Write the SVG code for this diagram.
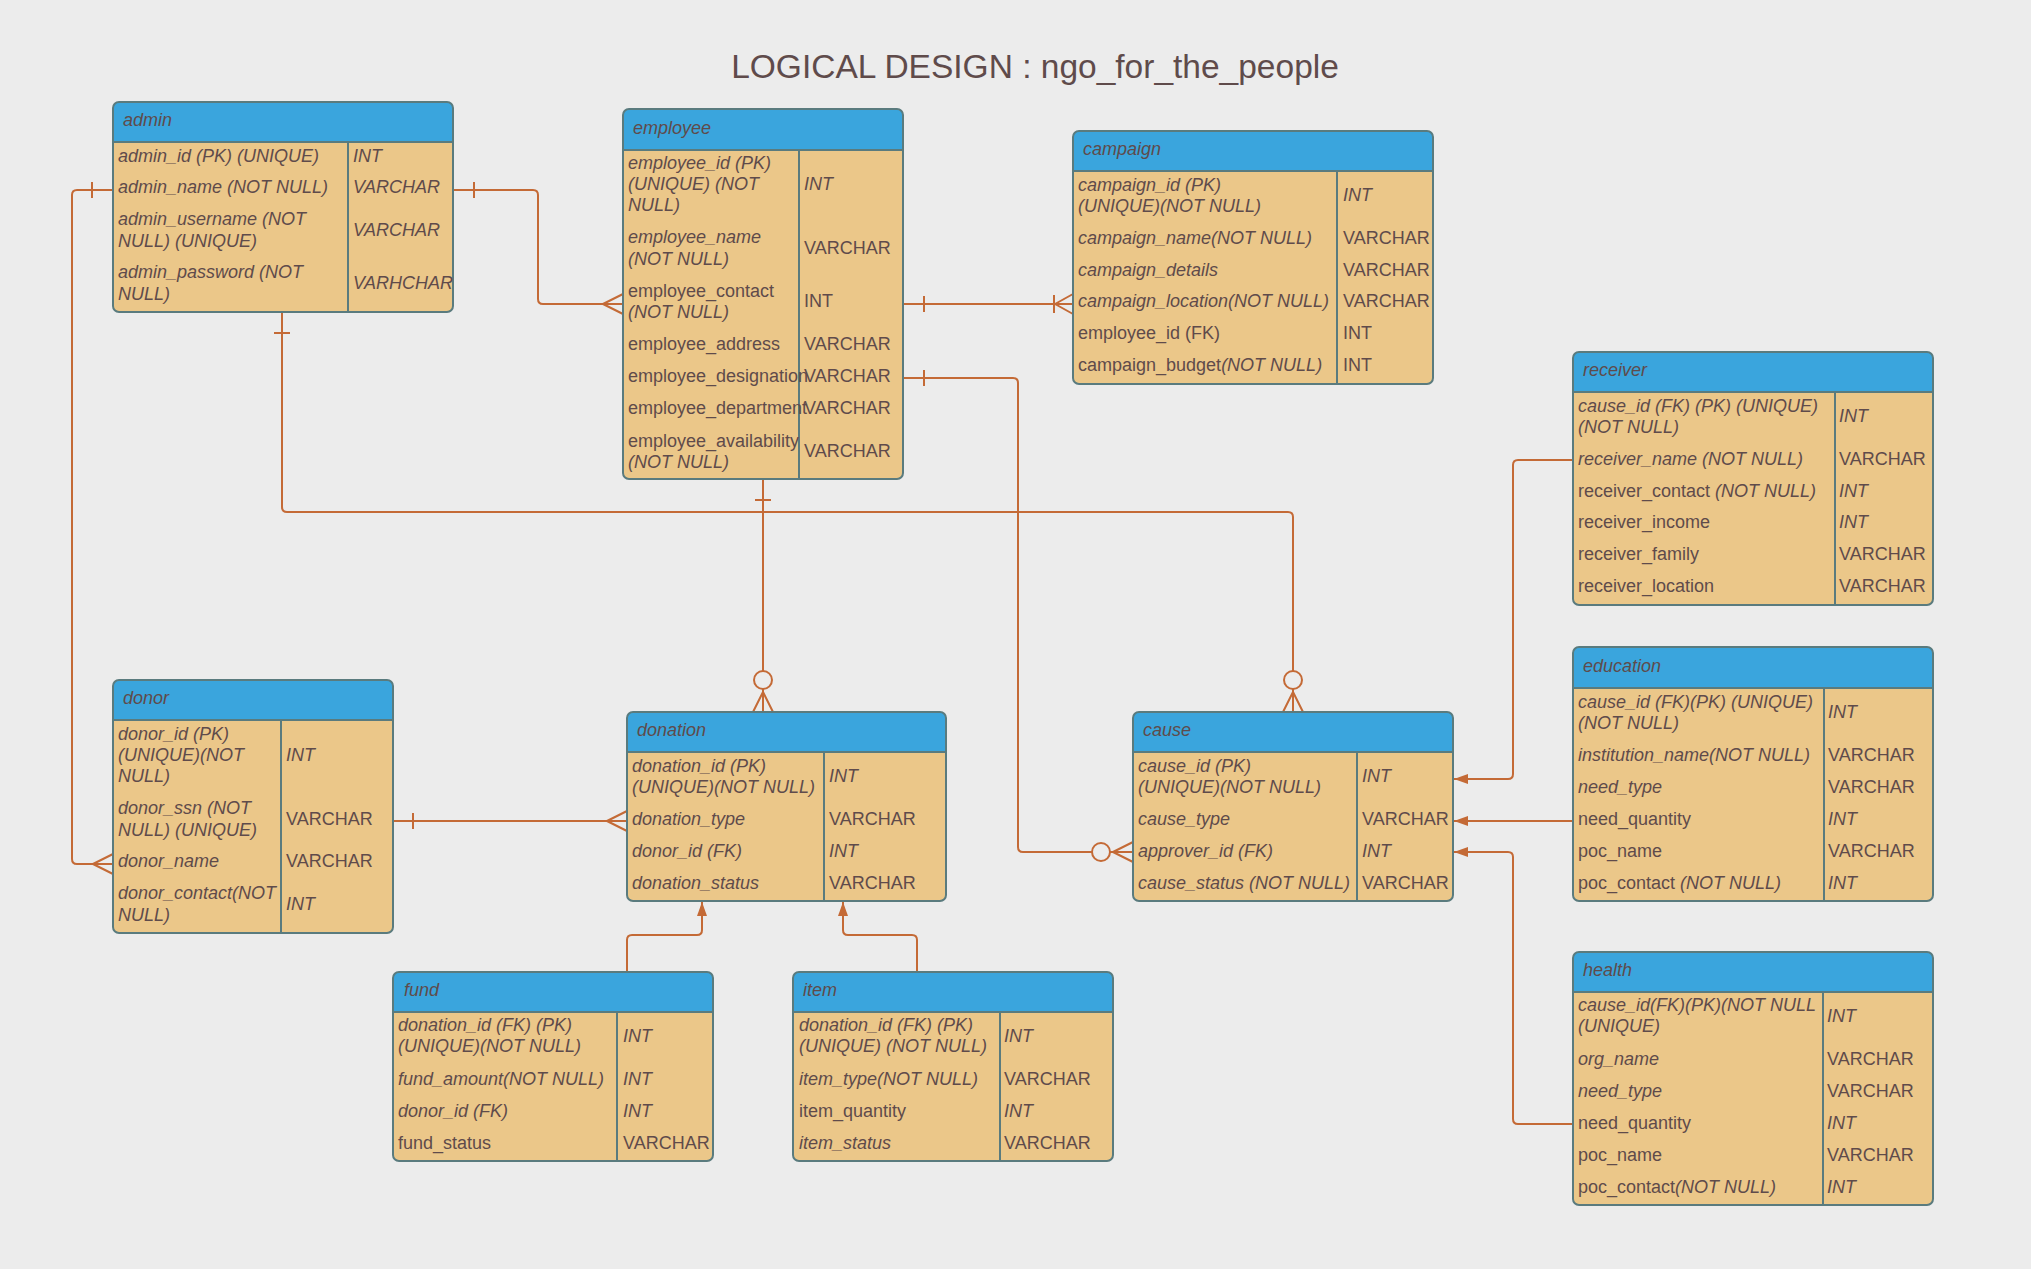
<svg xmlns="http://www.w3.org/2000/svg" width="2031" height="1269" viewBox="0 0 2031 1269">
<style>
  text { font-family: "Liberation Sans", Arial, sans-serif; font-size: 18px; fill: #5f4b4b; }
  .i { font-style: italic; }
  .title { font-size: 33.5px; }
  .body { fill: #ebc789; }
  .head { fill: #3aa5dd; }
  .frame { fill: none; stroke: #5a7b7e; stroke-width: 2; }
  .rel { fill: none; stroke: #c46a36; stroke-width: 2; }
  .ring { fill: #ececec; stroke: #c46a36; stroke-width: 2; }
</style>
<defs>
  <marker id="arrow" viewBox="0 0 14 10" refX="14" refY="5" markerWidth="14" markerHeight="10" markerUnits="userSpaceOnUse" orient="auto">
    <path d="M0,0 L14,5 L0,10 Z" fill="#c46a36"/>
  </marker>
</defs>
<rect width="2031" height="1269" fill="#ececec"/>
<text class="title" x="1035" y="78" text-anchor="middle">LOGICAL DESIGN : ngo_for_the_people</text>

<!-- relationships -->
<g id="connectors">
  <!-- admin -> donor -->
  <path class="rel" d="M113,190 H77 Q72,190 72,195 V859 Q72,864 77,864 H113"/>
  <path class="rel" d="M92,182 V198 M93,864 L113,854 M93,864 L113,874"/>
  <!-- admin -> employee -->
  <path class="rel" d="M453,190 H533 Q538,190 538,195 V299 Q538,304 543,304 H623"/>
  <path class="rel" d="M474,182 V198 M603,304 L623,294 M603,304 L623,314"/>
  <!-- employee -> campaign -->
  <path class="rel" d="M903,304 H1073"/>
  <path class="rel" d="M924,296 V312 M1054,295 V313 M1055,304 L1073,294 M1055,304 L1073,314"/>
  <!-- employee -> cause (approver) -->
  <path class="rel" d="M903,378 H1013 Q1018,378 1018,383 V847 Q1018,852 1023,852 H1133"/>
  <path class="rel" d="M924,370 V386 M1113,852 L1133,842 M1113,852 L1133,862"/>
  <circle class="ring" cx="1101" cy="852" r="9"/>
  <!-- employee -> donation -->
  <path class="rel" d="M763,479 V712"/>
  <path class="rel" d="M755,500 H771 M763,692 L753,712 M763,692 L773,712"/>
  <circle class="ring" cx="763" cy="680" r="9"/>
  <!-- admin -> cause -->
  <path class="rel" d="M282,312 V507 Q282,512 287,512 H1288 Q1293,512 1293,517 V712"/>
  <path class="rel" d="M274,333 H290 M1293,692 L1283,712 M1293,692 L1303,712"/>
  <circle class="ring" cx="1293" cy="680" r="9"/>
  <!-- donor -> donation -->
  <path class="rel" d="M393,821 H627"/>
  <path class="rel" d="M413,813 V829 M607,821 L627,811 M607,821 L627,831"/>
  <!-- fund, item -> donation -->
  <path class="rel" d="M627,972 V940 Q627,935 632,935 H697 Q702,935 702,930 V902" marker-end="url(#arrow)"/>
  <path class="rel" d="M917,972 V940 Q917,935 912,935 H848 Q843,935 843,930 V902" marker-end="url(#arrow)"/>
  <!-- receiver, education, health -> cause -->
  <path class="rel" d="M1573,460 H1518 Q1513,460 1513,465 V774 Q1513,779 1508,779 H1454" marker-end="url(#arrow)"/>
  <path class="rel" d="M1573,821 H1454" marker-end="url(#arrow)"/>
  <path class="rel" d="M1573,1124 H1518 Q1513,1124 1513,1119 V857 Q1513,852 1508,852 H1454" marker-end="url(#arrow)"/>
</g>

<g id="admin">
  <rect class="body" x="113" y="102" width="340" height="210" rx="6"/>
  <path class="head" d="M113,142 V108 Q113,102 119,102 H447 Q453,102 453,108 V142 Z"/>
  <rect class="frame" x="113" y="102" width="340" height="210" rx="6"/>
  <path class="frame" d="M113,142 H453 M348,142 V312"/>
  <text class="i" x="123" y="126">admin</text>
  <text class="i" x="118" y="162">admin_id (PK) (UNIQUE)</text>
  <text class="i" x="353" y="162">INT</text>
  <text class="i" x="118" y="193">admin_name (NOT NULL)</text>
  <text class="i" x="353" y="193">VARCHAR</text>
  <text class="i" x="118" y="225">admin_username (NOT</text>
  <text class="i" x="118" y="247">NULL) (UNIQUE)</text>
  <text class="i" x="353" y="236">VARCHAR</text>
  <text class="i" x="118" y="278">admin_password (NOT</text>
  <text class="i" x="118" y="300">NULL)</text>
  <text class="i" x="353" y="289">VARHCHAR</text>
</g>

<g id="employee">
  <rect class="body" x="623" y="109" width="280" height="370" rx="6"/>
  <path class="head" d="M623,150 V115 Q623,109 629,109 H897 Q903,109 903,115 V150 Z"/>
  <rect class="frame" x="623" y="109" width="280" height="370" rx="6"/>
  <path class="frame" d="M623,150 H903 M799,150 V479"/>
  <text class="i" x="633" y="134">employee</text>
  <text class="i" x="628" y="169">employee_id (PK)</text>
  <text class="i" x="628" y="190">(UNIQUE) (NOT</text>
  <text class="i" x="628" y="211">NULL)</text>
  <text class="i" x="804" y="190">INT</text>
  <text class="i" x="628" y="243">employee_name</text>
  <text class="i" x="628" y="265">(NOT NULL)</text>
  <text x="804" y="254">VARCHAR</text>
  <text x="628" y="297">employee_contact</text>
  <text class="i" x="628" y="318">(NOT NULL)</text>
  <text x="804" y="307">INT</text>
  <text x="628" y="350">employee_address</text>
  <text x="804" y="350">VARCHAR</text>
  <text x="628" y="382">employee_designation</text>
  <text x="804" y="382">VARCHAR</text>
  <text x="628" y="414">employee_department</text>
  <text x="804" y="414">VARCHAR</text>
  <text x="628" y="447">employee_availability</text>
  <text class="i" x="628" y="468">(NOT NULL)</text>
  <text x="804" y="457">VARCHAR</text>
</g>

<g id="campaign">
  <rect class="body" x="1073" y="131" width="360" height="253" rx="6"/>
  <path class="head" d="M1073,171 V137 Q1073,131 1079,131 H1427 Q1433,131 1433,137 V171 Z"/>
  <rect class="frame" x="1073" y="131" width="360" height="253" rx="6"/>
  <path class="frame" d="M1073,171 H1433 M1337,171 V384"/>
  <text class="i" x="1083" y="155">campaign</text>
  <text class="i" x="1078" y="191">campaign_id (PK)</text>
  <text class="i" x="1078" y="212">(UNIQUE)(NOT NULL)</text>
  <text class="i" x="1343" y="201">INT</text>
  <text class="i" x="1078" y="244">campaign_name(NOT NULL)</text>
  <text x="1343" y="244">VARCHAR</text>
  <text class="i" x="1078" y="276">campaign_details</text>
  <text x="1343" y="276">VARCHAR</text>
  <text class="i" x="1078" y="307">campaign_location(NOT NULL)</text>
  <text x="1343" y="307">VARCHAR</text>
  <text x="1078" y="339">employee_id (FK)</text>
  <text x="1343" y="339">INT</text>
  <text x="1078" y="371">campaign_budget<tspan class="i">(NOT NULL)</tspan></text>
  <text x="1343" y="371">INT</text>
</g>

<g id="receiver">
  <rect class="body" x="1573" y="352" width="360" height="253" rx="6"/>
  <path class="head" d="M1573,392 V358 Q1573,352 1579,352 H1927 Q1933,352 1933,358 V392 Z"/>
  <rect class="frame" x="1573" y="352" width="360" height="253" rx="6"/>
  <path class="frame" d="M1573,392 H1933 M1835,392 V605"/>
  <text class="i" x="1583" y="376">receiver</text>
  <text class="i" x="1578" y="412">cause_id (FK) (PK) (UNIQUE)</text>
  <text class="i" x="1578" y="433">(NOT NULL)</text>
  <text class="i" x="1839" y="422">INT</text>
  <text class="i" x="1578" y="465">receiver_name (NOT NULL)</text>
  <text x="1839" y="465">VARCHAR</text>
  <text x="1578" y="497">receiver_contact <tspan class="i">(NOT NULL)</tspan></text>
  <text class="i" x="1839" y="497">INT</text>
  <text x="1578" y="528">receiver_income</text>
  <text class="i" x="1839" y="528">INT</text>
  <text x="1578" y="560">receiver_family</text>
  <text x="1839" y="560">VARCHAR</text>
  <text x="1578" y="592">receiver_location</text>
  <text x="1839" y="592">VARCHAR</text>
</g>

<g id="donor">
  <rect class="body" x="113" y="680" width="280" height="253" rx="6"/>
  <path class="head" d="M113,720 V686 Q113,680 119,680 H387 Q393,680 393,686 V720 Z"/>
  <rect class="frame" x="113" y="680" width="280" height="253" rx="6"/>
  <path class="frame" d="M113,720 H393 M281,720 V933"/>
  <text class="i" x="123" y="704">donor</text>
  <text class="i" x="118" y="740">donor_id (PK)</text>
  <text class="i" x="118" y="761">(UNIQUE)(NOT</text>
  <text class="i" x="118" y="782">NULL)</text>
  <text class="i" x="286" y="761">INT</text>
  <text class="i" x="118" y="814">donor_ssn (NOT</text>
  <text class="i" x="118" y="836">NULL) (UNIQUE)</text>
  <text x="286" y="825">VARCHAR</text>
  <text class="i" x="118" y="867">donor_name</text>
  <text x="286" y="867">VARCHAR</text>
  <text class="i" x="118" y="899">donor_contact(NOT</text>
  <text class="i" x="118" y="921">NULL)</text>
  <text class="i" x="286" y="910">INT</text>
</g>

<g id="donation">
  <rect class="body" x="627" y="712" width="319" height="189" rx="6"/>
  <path class="head" d="M627,752 V718 Q627,712 633,712 H940 Q946,712 946,718 V752 Z"/>
  <rect class="frame" x="627" y="712" width="319" height="189" rx="6"/>
  <path class="frame" d="M627,752 H946 M824,752 V901"/>
  <text class="i" x="637" y="736">donation</text>
  <text class="i" x="632" y="772">donation_id (PK)</text>
  <text class="i" x="632" y="793">(UNIQUE)(NOT NULL)</text>
  <text class="i" x="829" y="782">INT</text>
  <text class="i" x="632" y="825">donation_type</text>
  <text x="829" y="825">VARCHAR</text>
  <text class="i" x="632" y="857">donor_id (FK)</text>
  <text class="i" x="829" y="857">INT</text>
  <text class="i" x="632" y="889">donation_status</text>
  <text x="829" y="889">VARCHAR</text>
</g>

<g id="cause">
  <rect class="body" x="1133" y="712" width="320" height="189" rx="6"/>
  <path class="head" d="M1133,752 V718 Q1133,712 1139,712 H1447 Q1453,712 1453,718 V752 Z"/>
  <rect class="frame" x="1133" y="712" width="320" height="189" rx="6"/>
  <path class="frame" d="M1133,752 H1453 M1357,752 V901"/>
  <text class="i" x="1143" y="736">cause</text>
  <text class="i" x="1138" y="772">cause_id (PK)</text>
  <text class="i" x="1138" y="793">(UNIQUE)(NOT NULL)</text>
  <text class="i" x="1362" y="782">INT</text>
  <text class="i" x="1138" y="825">cause_type</text>
  <text x="1362" y="825">VARCHAR</text>
  <text class="i" x="1138" y="857">approver_id (FK)</text>
  <text class="i" x="1362" y="857">INT</text>
  <text class="i" x="1138" y="889">cause_status (NOT NULL)</text>
  <text x="1362" y="889">VARCHAR</text>
</g>

<g id="education">
  <rect class="body" x="1573" y="647" width="360" height="254" rx="6"/>
  <path class="head" d="M1573,688 V653 Q1573,647 1579,647 H1927 Q1933,647 1933,653 V688 Z"/>
  <rect class="frame" x="1573" y="647" width="360" height="254" rx="6"/>
  <path class="frame" d="M1573,688 H1933 M1824,688 V901"/>
  <text class="i" x="1583" y="672">education</text>
  <text class="i" x="1578" y="708">cause_id (FK)(PK) (UNIQUE)</text>
  <text class="i" x="1578" y="729">(NOT NULL)</text>
  <text class="i" x="1828" y="718">INT</text>
  <text class="i" x="1578" y="761">institution_name(NOT NULL)</text>
  <text x="1828" y="761">VARCHAR</text>
  <text class="i" x="1578" y="793">need_type</text>
  <text x="1828" y="793">VARCHAR</text>
  <text x="1578" y="825">need_quantity</text>
  <text class="i" x="1828" y="825">INT</text>
  <text x="1578" y="857">poc_name</text>
  <text x="1828" y="857">VARCHAR</text>
  <text x="1578" y="889">poc_contact <tspan class="i">(NOT NULL)</tspan></text>
  <text class="i" x="1828" y="889">INT</text>
</g>

<g id="health">
  <rect class="body" x="1573" y="952" width="360" height="253" rx="6"/>
  <path class="head" d="M1573,992 V958 Q1573,952 1579,952 H1927 Q1933,952 1933,958 V992 Z"/>
  <rect class="frame" x="1573" y="952" width="360" height="253" rx="6"/>
  <path class="frame" d="M1573,992 H1933 M1823,992 V1205"/>
  <text class="i" x="1583" y="976">health</text>
  <text class="i" x="1578" y="1011">cause_id(FK)(PK)(NOT NULL</text>
  <text class="i" x="1578" y="1032">(UNIQUE)</text>
  <text class="i" x="1827" y="1022">INT</text>
  <text class="i" x="1578" y="1065">org_name</text>
  <text x="1827" y="1065">VARCHAR</text>
  <text class="i" x="1578" y="1097">need_type</text>
  <text x="1827" y="1097">VARCHAR</text>
  <text x="1578" y="1129">need_quantity</text>
  <text class="i" x="1827" y="1129">INT</text>
  <text x="1578" y="1161">poc_name</text>
  <text x="1827" y="1161">VARCHAR</text>
  <text x="1578" y="1193">poc_contact<tspan class="i">(NOT NULL)</tspan></text>
  <text class="i" x="1827" y="1193">INT</text>
</g>

<g id="fund">
  <rect class="body" x="393" y="972" width="320" height="189" rx="6"/>
  <path class="head" d="M393,1012 V978 Q393,972 399,972 H707 Q713,972 713,978 V1012 Z"/>
  <rect class="frame" x="393" y="972" width="320" height="189" rx="6"/>
  <path class="frame" d="M393,1012 H713 M617,1012 V1161"/>
  <text class="i" x="404" y="996">fund</text>
  <text class="i" x="398" y="1031">donation_id (FK) (PK)</text>
  <text class="i" x="398" y="1052">(UNIQUE)(NOT NULL)</text>
  <text class="i" x="623" y="1042">INT</text>
  <text class="i" x="398" y="1085">fund_amount(NOT NULL)</text>
  <text class="i" x="623" y="1085">INT</text>
  <text class="i" x="398" y="1117">donor_id (FK)</text>
  <text class="i" x="623" y="1117">INT</text>
  <text x="398" y="1149">fund_status</text>
  <text x="623" y="1149">VARCHAR</text>
</g>

<g id="item">
  <rect class="body" x="793" y="972" width="320" height="189" rx="6"/>
  <path class="head" d="M793,1012 V978 Q793,972 799,972 H1107 Q1113,972 1113,978 V1012 Z"/>
  <rect class="frame" x="793" y="972" width="320" height="189" rx="6"/>
  <path class="frame" d="M793,1012 H1113 M1000,1012 V1161"/>
  <text class="i" x="803" y="996">item</text>
  <text class="i" x="799" y="1031">donation_id (FK) (PK)</text>
  <text class="i" x="799" y="1052">(UNIQUE) (NOT NULL)</text>
  <text class="i" x="1004" y="1042">INT</text>
  <text class="i" x="799" y="1085">item_type(NOT NULL)</text>
  <text x="1004" y="1085">VARCHAR</text>
  <text x="799" y="1117">item_quantity</text>
  <text class="i" x="1004" y="1117">INT</text>
  <text class="i" x="799" y="1149">item_status</text>
  <text x="1004" y="1149">VARCHAR</text>
</g>
</svg>
